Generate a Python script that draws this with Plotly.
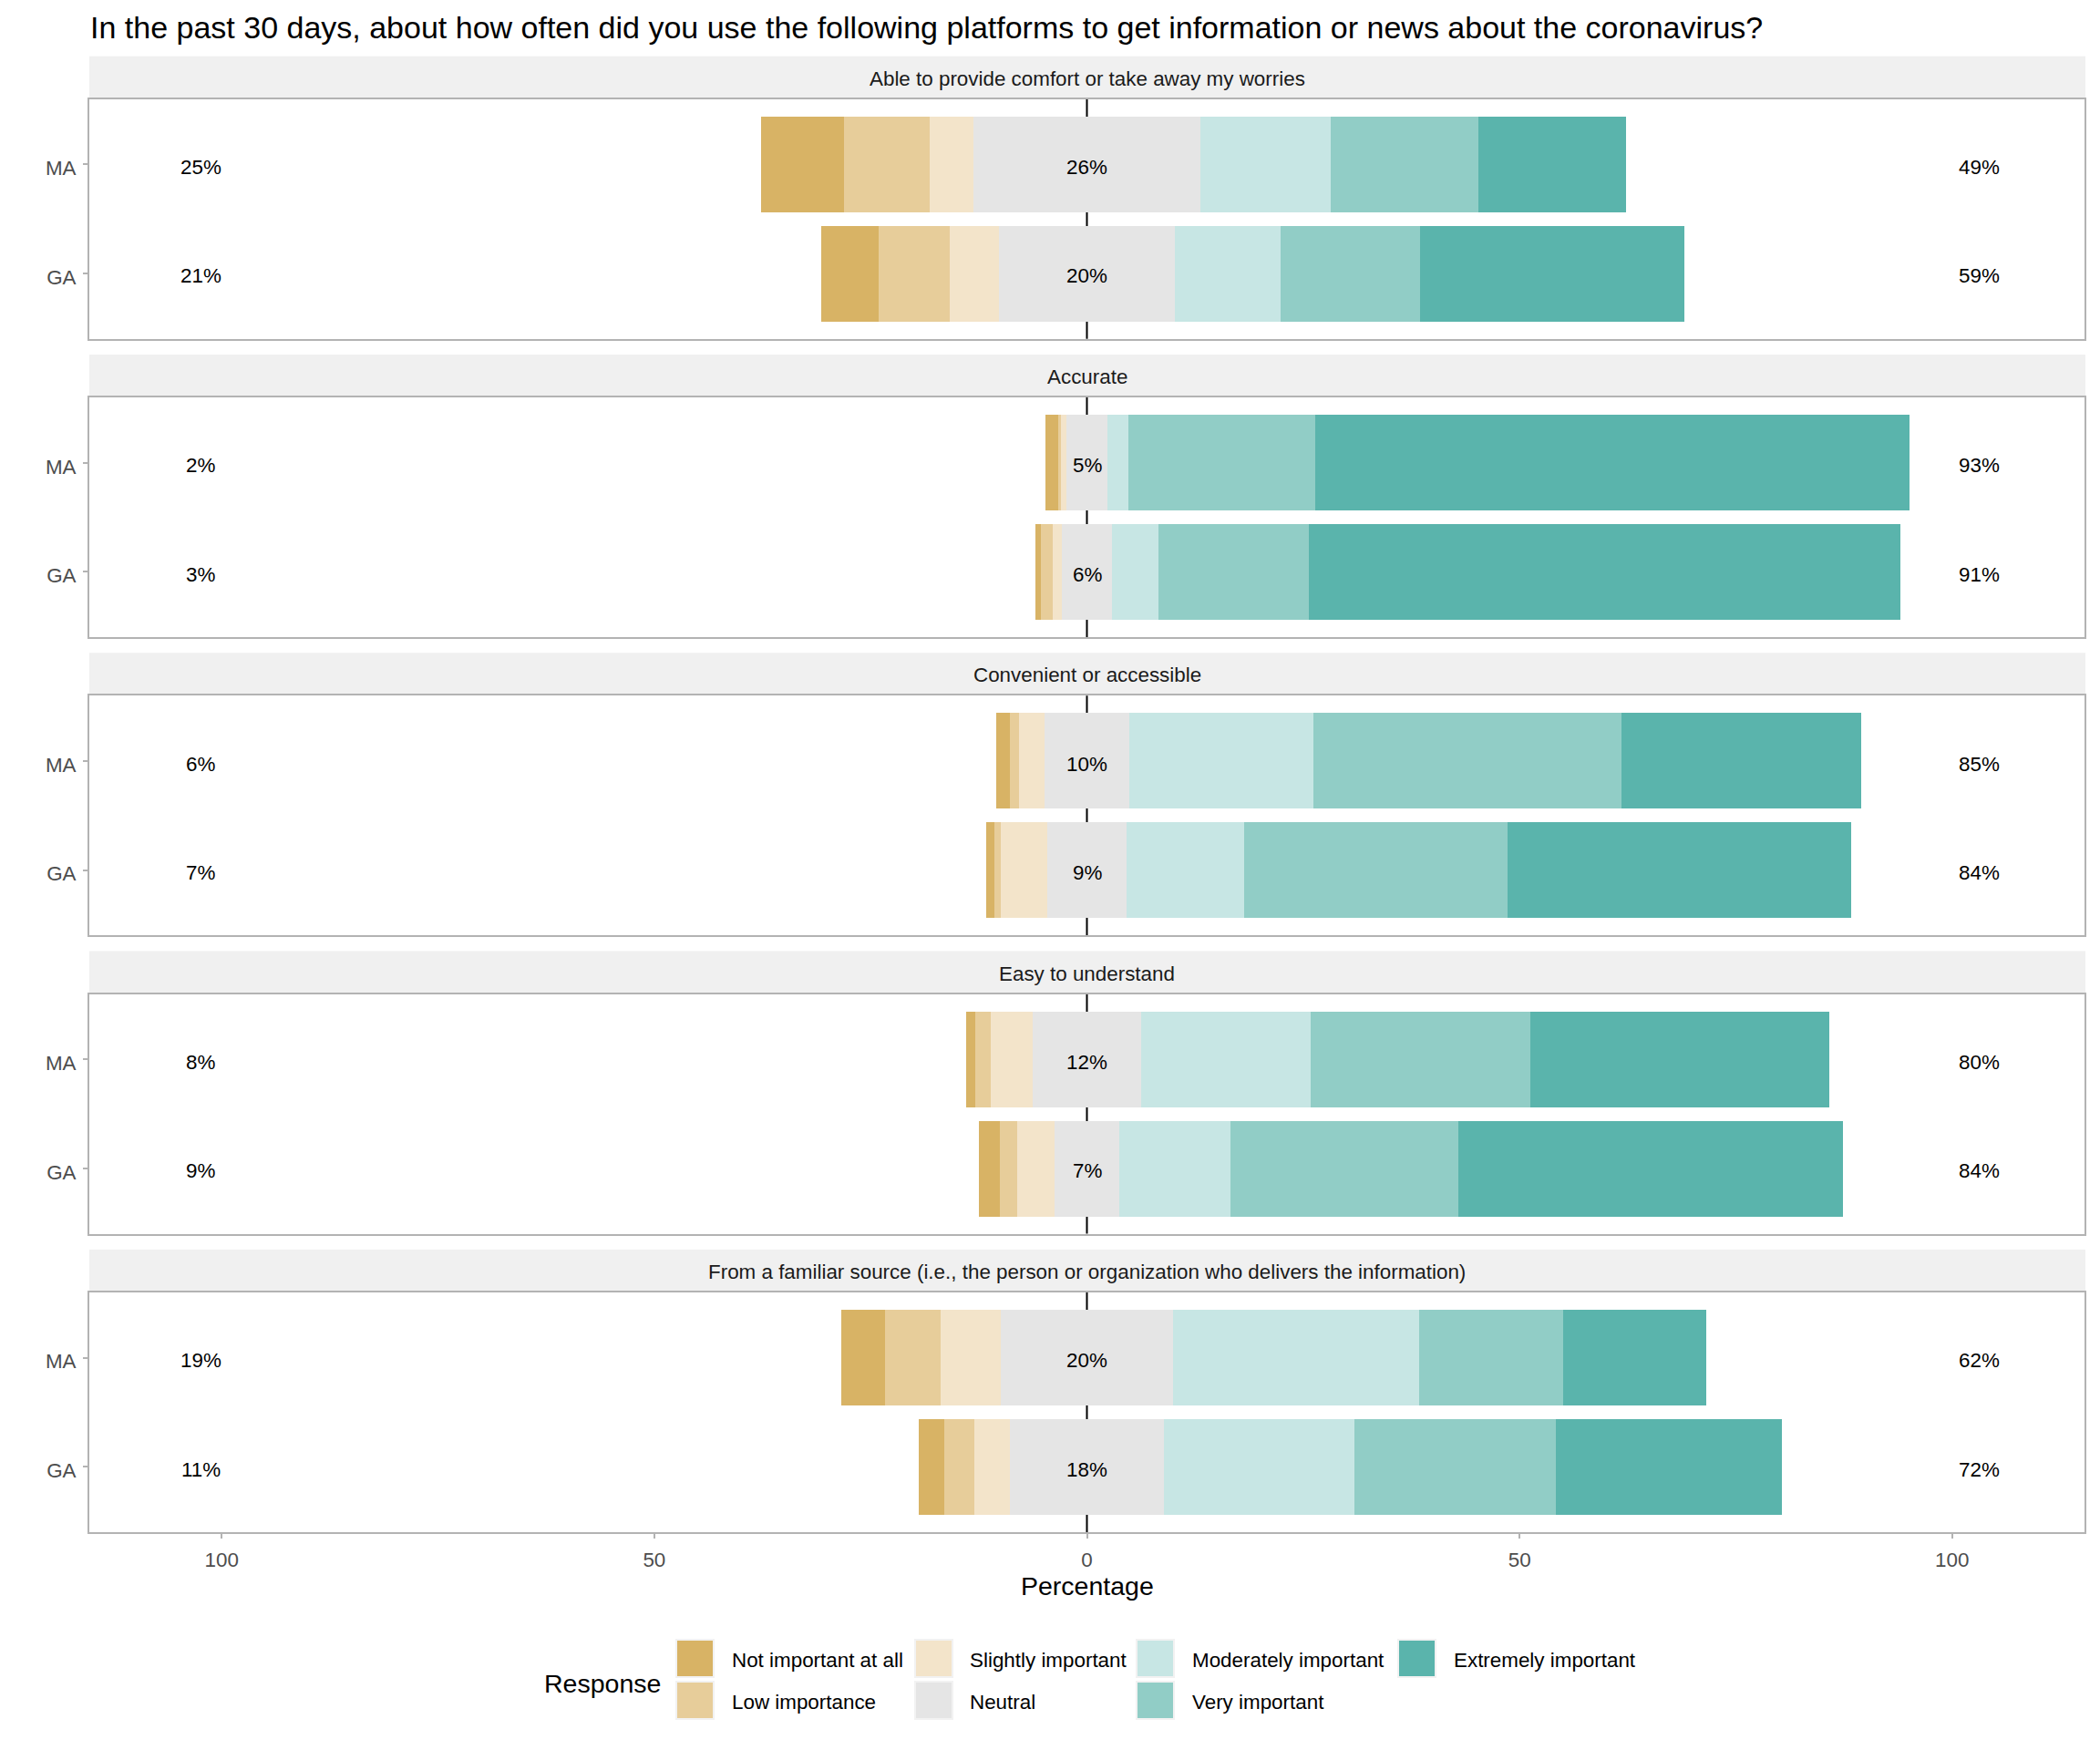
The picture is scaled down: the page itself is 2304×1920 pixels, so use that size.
import plotly.graph_objects as go

W, H = 2304, 1920

title = "In the past 30 days, about how often did you use the following platforms to get information or news about the coronavirus?"

categories = [
    "Able to provide comfort or take away my worries",
    "Accurate",
    "Convenient or accessible",
    "Easy to understand",
    "From a familiar source (i.e., the person or organization who delivers the information)",
]
groups = ["MA", "GA"]

responses = ["Not important at all", "Low importance", "Slightly important", "Neutral",
             "Moderately important", "Very important", "Extremely important"]
colors = ["#D8B365", "#E7CD9A", "#F3E4CA", "#E5E5E5", "#C7E6E4", "#91CDC6", "#5AB4AC"]

# values per category: [MA, GA]
not_important = [[9.6, 6.7], [1.4, 0.6], [1.5, 0.9], [1.0, 2.4], [5.0, 3.0]]
low_importance = [[9.9, 8.2], [0.3, 1.4], [1.1, 0.7], [1.8, 2.0], [6.4, 3.4]]
slightly = [[5.0, 5.7], [0.7, 1.0], [3.0, 5.4], [4.9, 4.4], [7.0, 4.1]]
neutral = [[26.3, 20.3], [4.7, 5.8], [9.7, 9.2], [12.5, 7.4], [19.9, 17.9]]
moderately = [[15.0, 12.2], [2.4, 5.4], [21.3, 13.6], [19.6, 12.9], [28.4, 22.0]]
very = [[17.1, 16.2], [21.6, 17.3], [35.6, 30.4], [25.4, 26.3], [16.7, 23.3]]
extremely = [[17.1, 30.5], [68.7, 68.4], [27.7, 39.7], [34.6, 44.5], [16.5, 26.1]]

low_labels = [[25, 21], [2, 3], [6, 7], [8, 9], [19, 11]]
neutral_labels = [[26, 20], [5, 6], [10, 9], [12, 7], [20, 18]]
high_labels = [[49, 59], [93, 91], [85, 84], [80, 84], [62, 72]]

tick_vals = [-100, -50, 0, 50, 100]
tick_text = ["100", "50", "0", "50", "100"]

FONT = "Liberation Sans, Arial, sans-serif"
TICK_COL = "#4D4D4D"
BORDER = "#B3B3B3"
FS_SMALL = 22.4
FS_MED = 28.5
FS_TITLE = 34

# layout geometry (pixels of the target image)
OFF = 8  # browser body margin compensation
PL, PR = 98, 2287
PANEL_TOP0 = 108.7
PITCH = 327.3
PANEL_H = 263
STRIP_H = 47
XR = [-115.3, 115.3]
BAR_W = 0.88
LABEL_X = (-102.4, 0, 103.1)


def px_x(p):
    return (p - OFF) / W


def px_y(p):
    return 1 - (p - OFF) / H


fig = go.Figure()
shapes = []
annotations = []
layout_axes = {}

for i, cat in enumerate(categories):
    xn = "x" if i == 0 else f"x{i+1}"
    yn = "y" if i == 0 else f"y{i+1}"
    top = PANEL_TOP0 + PITCH * i
    bot = top + PANEL_H

    def vals(arr, sign=1.0, half=False):
        return [sign * (v / 2 if half else v) for v in arr[i]]

    series = [
        ("Neutral", neutral, -1, True, colors[3]),
        ("Neutral", neutral, 1, True, colors[3]),
        ("Slightly important", slightly, -1, False, colors[2]),
        ("Low importance", low_importance, -1, False, colors[1]),
        ("Not important at all", not_important, -1, False, colors[0]),
        ("Moderately important", moderately, 1, False, colors[4]),
        ("Very important", very, 1, False, colors[5]),
        ("Extremely important", extremely, 1, False, colors[6]),
    ]
    for name, arr, sign, half, col in series:
        fig.add_trace(go.Bar(
            x=vals(arr, sign, half), y=groups, orientation="h",
            name=name, marker=dict(color=col, line=dict(width=0)),
            width=BAR_W, xaxis=xn, yaxis=yn, showlegend=False,
            hoverinfo="skip",
        ))

    # percentage labels
    for xpos, labs in zip(LABEL_X, (low_labels, neutral_labels, high_labels)):
        for g, v in zip(groups, labs[i]):
            annotations.append(dict(
                xref=xn, yref=yn, x=xpos, y=g, text=f"{v}%", showarrow=False,
                xanchor="center", yanchor="middle", yshift=-3,
                font=dict(family=FONT, size=FS_SMALL, color="black")))

    xkey = "xaxis" if i == 0 else f"xaxis{i+1}"
    ykey = "yaxis" if i == 0 else f"yaxis{i+1}"
    last = i == len(categories) - 1
    layout_axes[xkey] = dict(
        domain=[px_x(PL), px_x(PR)], anchor=yn, range=XR,
        showgrid=False, zeroline=False,
        showline=True, mirror=True, linecolor=BORDER, linewidth=2,
        tickvals=tick_vals, ticktext=tick_text,
        showticklabels=last, ticks="outside" if last else "",
        ticklen=5, tickcolor=BORDER, tickwidth=2, ticklabelstandoff=4,
        tickfont=dict(family=FONT, size=FS_SMALL, color=TICK_COL),
        fixedrange=True,
    )
    layout_axes[ykey] = dict(
        domain=[px_y(bot), px_y(top)], anchor=xn,
        type="category", categoryorder="array", categoryarray=["GA", "MA"],
        range=[-0.6, 1.6], showgrid=False, zeroline=False,
        showline=True, mirror=True, linecolor=BORDER, linewidth=2,
        ticks="outside", ticklen=5, tickcolor=BORDER, tickwidth=2,
        ticklabelstandoff=3, ticklabelshift=4,
        tickfont=dict(family=FONT, size=FS_SMALL, color=TICK_COL),
        fixedrange=True,
    )

    # zero line under bars
    shapes.append(dict(type="line", xref=xn, yref=f"{yn} domain",
                       x0=0, x1=0, y0=0, y1=1, layer="below",
                       line=dict(color="black", width=2)))
    # strip
    shapes.append(dict(type="rect", xref="paper", yref="paper",
                       x0=px_x(PL), x1=px_x(PR + 1),
                       y0=px_y(top - 1), y1=px_y(top - STRIP_H),
                       fillcolor="#F0F0F0", line=dict(width=0), layer="below"))
    annotations.append(dict(
        xref="paper", yref="paper", x=px_x((PL + PR) / 2), y=px_y(top - STRIP_H / 2 + 1),
        text=cat, showarrow=False, xanchor="center", yanchor="middle",
        font=dict(family=FONT, size=FS_SMALL, color="#1A1A1A")))

# title
annotations.append(dict(xref="paper", yref="paper", x=px_x(97), y=px_y(30),
                        text=title, showarrow=False, xanchor="left", yanchor="middle",
                        font=dict(family=FONT, size=FS_TITLE, color="black")))
# axis title
annotations.append(dict(xref="paper", yref="paper", x=px_x((PL + PR) / 2), y=px_y(1740),
                        text="Percentage", showarrow=False, xanchor="center", yanchor="middle",
                        font=dict(family=FONT, size=FS_MED, color="black")))

# legend (manual, 2 rows column-major)
annotations.append(dict(xref="paper", yref="paper", x=px_x(595), y=px_y(1847),
                        text="Response", showarrow=False, xanchor="left", yanchor="middle",
                        font=dict(family=FONT, size=FS_MED, color="black")))
key_x = [742, 1004, 1247, 1534]
lab_x = [801, 1062, 1306, 1593]
row_y = [1799, 1845]
KEY = 41
for k, (resp, col) in enumerate(zip(responses, colors)):
    c, r = k // 2, k % 2
    x0 = key_x[c]
    y0 = row_y[r]
    shapes.append(dict(type="rect", xref="paper", yref="paper",
                       x0=px_x(x0), x1=px_x(x0 + KEY), y0=px_y(y0), y1=px_y(y0 + KEY),
                       fillcolor=col, line=dict(color="#F2F2F2", width=2)))
    annotations.append(dict(xref="paper", yref="paper", x=px_x(lab_x[c]), y=px_y(y0 + KEY / 2 + 2),
                            text=resp, showarrow=False, xanchor="left", yanchor="middle",
                            font=dict(family=FONT, size=FS_SMALL, color="black")))

fig.update_layout(
    width=W, height=H, margin=dict(l=0, r=0, t=0, b=0),
    paper_bgcolor="white", plot_bgcolor="white",
    barmode="relative", bargap=0,
    shapes=shapes, annotations=annotations,
    font=dict(family=FONT),
    **layout_axes,
)

fig.write_html("out.html")
